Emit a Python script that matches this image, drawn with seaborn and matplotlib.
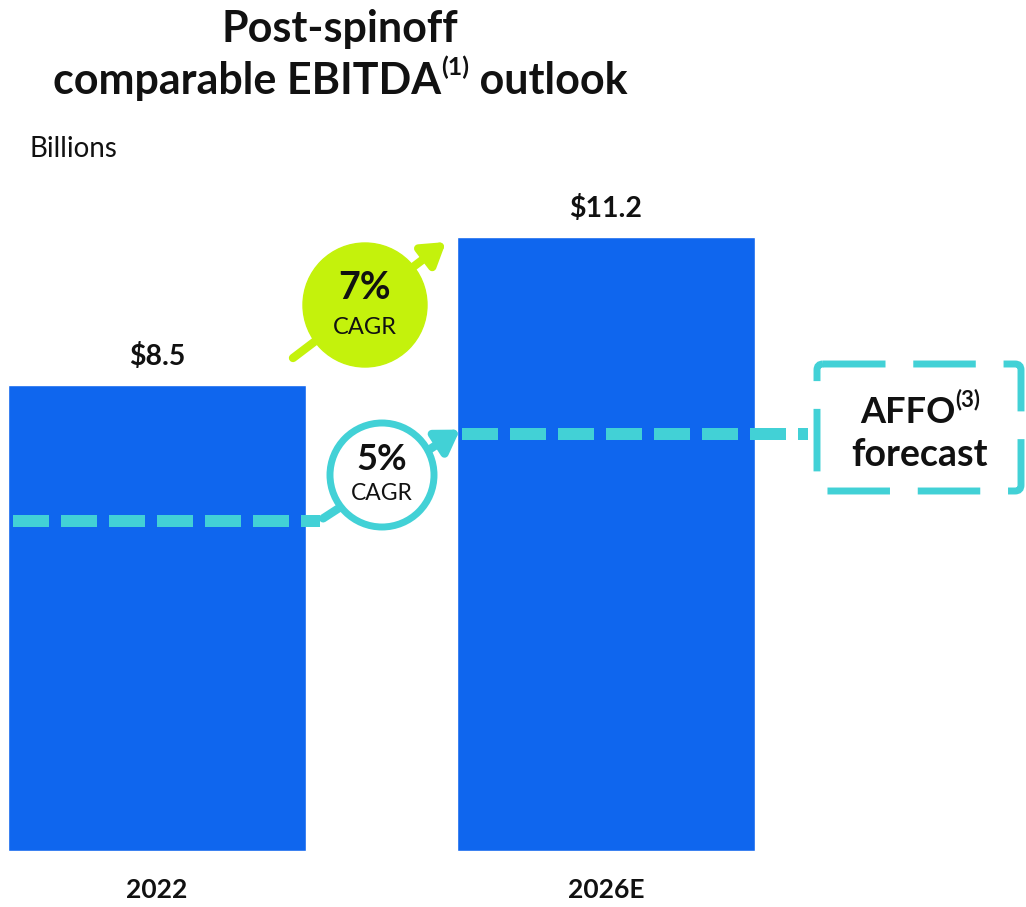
import pandas as pd
import matplotlib.pyplot as plt
import seaborn as sns
from matplotlib.patches import Circle, FancyBboxPatch

# Data
years = ['2022', '2026E']
ebitda = [8.5, 11.2]           # billions
value_labels = ['$8.5', '$11.2']
affo_level = [6.02, 7.61]       # dashed AFFO forecast line (relative level)

df = pd.DataFrame({'Year': years, 'EBITDA': ebitda})

sns.set_theme(style='white')
plt.rcParams['font.family'] = ['Lato', 'DejaVu Sans']

BLUE = '#0F66EE'
LIME = '#C4F20C'
TEAL = '#42D1D6'

W, H = 1026, 907
fig = plt.figure(figsize=(W / 100, H / 100), dpi=100)

# main data axes: baseline at 851 px from top, 54.8 px per billion
px_per_unit = 54.8
ax = fig.add_axes([0, 0, 1, 1])
sns.barplot(data=df, x='Year', y='EBITDA', color=BLUE, width=0.664,
            saturation=1, ax=ax)
ax.set_xlim(-157 / 449, (W - 157) / 449)
ax.set_ylim(-(H - 851) / px_per_unit, 851 / px_per_unit)
ax.axis('off')

for i, (v, lab) in enumerate(zip(ebitda, value_labels)):
    ax.text(i, v + 0.28, lab, ha='center', va='bottom', fontsize=20.5,
            fontweight='bold', color='#111111')
    ax.text(i, -0.71, years[i], ha='center', va='center', fontsize=19,
            fontweight='bold', color='#111111')

# AFFO dashed line
dash = dict(color=TEAL, lw=8.64, dashes=(3, 1), dash_capstyle='butt')
ax.plot([-0.321, 0.363], [affo_level[0]] * 2, **dash)
ax.plot([0.679, 1.45], [affo_level[1]] * 2, **dash)
ax.annotate('', xy=(0.675, affo_level[1] + 0.08), xytext=(0.37, affo_level[0] + 0.05),
            arrowprops=dict(arrowstyle='-|>,head_length=1.1,head_width=0.7',
                            color=TEAL, lw=6, shrinkA=0, shrinkB=0))

# overlay axes in pixel coordinates (y downwards) for decorations
ov = fig.add_axes([0, 0, 1, 1])
ov.set_xlim(0, W)
ov.set_ylim(H, 0)
ov.axis('off')
ov.patch.set_alpha(0)

# green CAGR badge with arrow
ov.annotate('', xy=(446, 242), xytext=(293, 358),
            arrowprops=dict(arrowstyle='-|>,head_length=1.1,head_width=0.7',
                            color=LIME, lw=6, shrinkA=0, shrinkB=0))
ov.add_patch(Circle((365, 305), 62, color=LIME, zorder=3))
ov.text(365, 288, '7%', ha='center', va='center', fontsize=27,
        fontweight='bold', color='#111111', zorder=4)
ov.text(365, 327, 'CAGR', ha='center', va='center', fontsize=17,
        color='#111111', zorder=4)

# teal CAGR ring
ov.add_patch(Circle((382, 475), 52, facecolor='white', edgecolor=TEAL,
                    lw=5, zorder=3))
ov.text(382, 459, '5%', ha='center', va='center', fontsize=26,
        fontweight='bold', color='#111111', zorder=4)
ov.text(382, 494, 'CAGR', ha='center', va='center', fontsize=16.5,
        color='#111111', zorder=4)

# AFFO box
ov.add_patch(FancyBboxPatch((817, 364), 204, 127,
                            boxstyle='round,pad=0,rounding_size=6',
                            facecolor='white', edgecolor=TEAL, lw=5,
                            linestyle=(0, (9, 4)), zorder=3))
ov.text(920, 455, 'forecast', ha='center', va='center', fontsize=27,
        fontweight='bold', color='#111111', zorder=4)

fig.canvas.draw()
renderer = fig.canvas.get_renderer()


def inline_super(axis, x, y, base, sup, tail, size, sup_size, center=True):
    parts = [(base, size, 0), (sup, sup_size, -0.45 * size * 1.39),
             (tail, size, 0)]
    objs = []
    for s, fs, dy in parts:
        t = axis.text(0, y, s, fontsize=fs, fontweight='bold', ha='left',
                      va='baseline', color='#111111', zorder=4)
        objs.append((t, dy))
    widths = [t.get_window_extent(renderer).width for t, _ in objs]
    total = sum(widths)
    cur = x - total / 2 if center else x
    for (t, dy), w in zip(objs, widths):
        t.set_position((cur, y + dy))
        cur += w
    return objs


inline_super(ov, 920, 423, 'AFFO', '(3)', '', 26, 16)

# title
ov.text(340, 42, 'Post-spinoff', ha='center', va='baseline', fontsize=31,
        fontweight='bold', color='#111111')
inline_super(ov, 340, 94, 'comparable EBITDA', '(1)', ' outlook', 31, 18)
ov.text(30, 157, 'Billions', ha='left', va='baseline', fontsize=20,
        color='#111111')

fig.savefig('out.png', dpi=100, facecolor='white')
